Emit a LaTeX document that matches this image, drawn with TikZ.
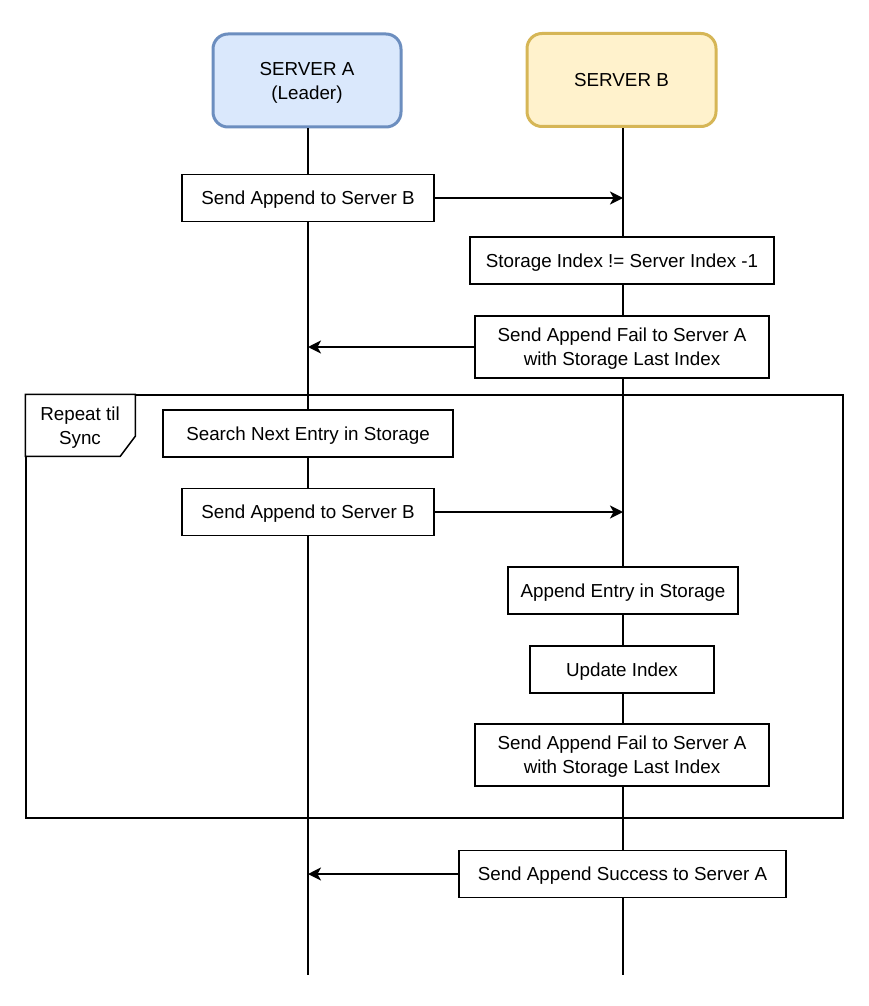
\documentclass[tikz,border=0pt]{standalone}
\usepackage{fontspec}
\setmainfont{Liberation Sans}
\usetikzlibrary{arrows.meta,positioning,calc}
\definecolor{aFill}{HTML}{DAE8FC}
\definecolor{aLine}{HTML}{6C8EBF}
\definecolor{bFill}{HTML}{FFF2CC}
\definecolor{bLine}{HTML}{D6B656}
\tikzset{
  txt/.style={font=\fontsize{18.8}{24}\selectfont, text depth=0pt},
  actbox/.style={draw=black, line width=1.5pt, fill=white, inner sep=0pt, align=center, txt},
  server/.style={rounded corners=15pt, line width=3pt, inner sep=0pt, align=center, txt, minimum width=188pt, minimum height=93pt},
  life/.style={line width=1.5pt, draw=black},
  msg/.style={line width=2pt, -{Stealth[length=13pt,width=13pt,inset=3.5pt]}},
}
\begin{document}
\begin{tikzpicture}[x=1pt,y=-1pt]
\useasboundingbox (0,0) rectangle (868,1006);
\fill[white] (0,0) rectangle (868,1006);
% servers
\node[server, draw=aLine, fill=aFill] (sa) at (307,80.5) {SERVER A\\(Leader)};
\node[server, draw=bLine, fill=bFill, minimum width=189pt] (sb) at (621.5,80) {SERVER B};
\coordinate (aend) at (308,975);
\coordinate (bend) at (623,975);
\draw[life] (sa.south -| aend) -- (aend);
\draw[life] (sb.south -| bend) -- (bend);
% loop frame
\node[draw=black, line width=1.5pt, minimum width=817pt, minimum height=423pt, inner sep=0pt] (loop) at (434.5,606.5) {};
\draw[line width=1.5pt, fill=white] (loop.north west) -- ++(110,0) -- ++(0,42) -- ++(-15,20) -- ++(-95,0) -- cycle;
\node[txt, align=center, inner sep=0pt] (looplbl) at (80,426) {Repeat til\\Sync};
% boxes
\node[actbox, minimum width=252pt, minimum height=47pt] (b1) at (308,198) {Send Append to Server B};
\node[actbox, minimum width=304pt, minimum height=47pt] (b2) at (622,260.5) {Storage Index != Server Index -1};
\node[actbox, minimum width=294pt, minimum height=62pt] (b3) at (622,347) {Send Append Fail to Server A\\with Storage Last Index};
\node[actbox, minimum width=290pt, minimum height=47pt] (b4) at (308,433.5) {Search Next Entry in Storage};
\node[actbox, minimum width=252pt, minimum height=47pt] (b5) at (308,512) {Send Append to Server B};
\node[actbox, minimum width=230pt, minimum height=47pt] (b6) at (623,590.5) {Append Entry in Storage};
\node[actbox, minimum width=184pt, minimum height=47pt] (b7) at (622,669.5) {Update Index};
\node[actbox, minimum width=294pt, minimum height=62pt] (b8) at (622,755) {Send Append Fail to Server A\\with Storage Last Index};
\node[actbox, minimum width=327pt, minimum height=47pt] (b9) at (622.5,874) {Send Append Success to Server A};
% messages
\draw[msg] (b1.east) -- (b1.east -| bend);
\draw[msg] (b3.west) -- (b3.west -| aend);
\draw[msg] (b5.east) -- (b5.east -| bend);
\draw[msg] (b9.west) -- (b9.west -| aend);
\end{tikzpicture}
\end{document}
